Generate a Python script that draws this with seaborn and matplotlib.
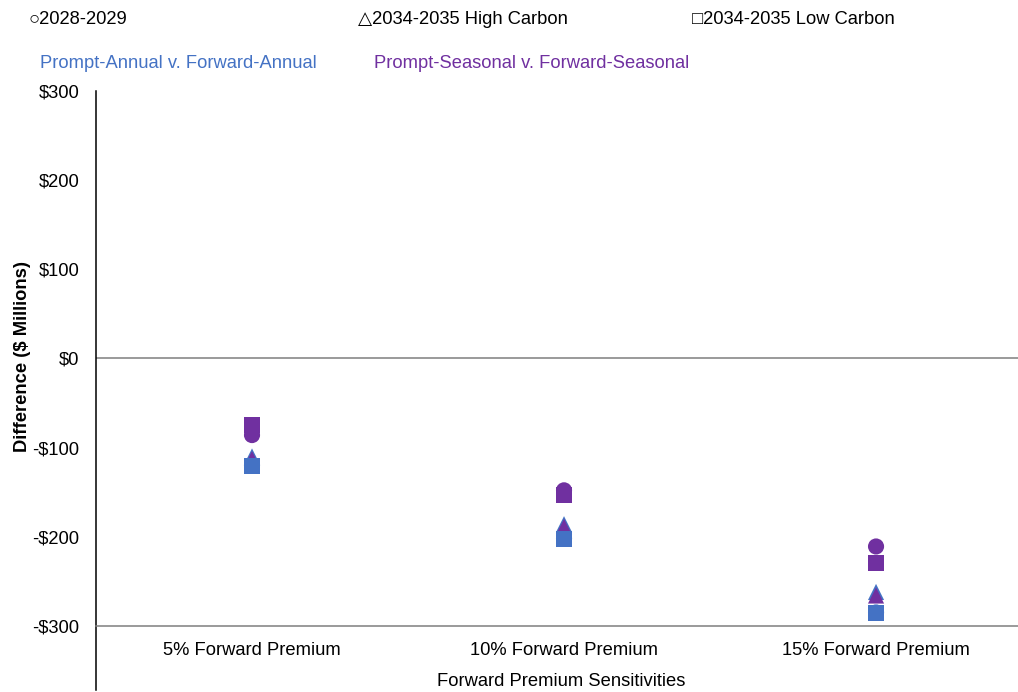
import pandas as pd
import numpy as np
import matplotlib.pyplot as plt
import seaborn as sns

sns.set_theme(style='white')
plt.rcParams['font.family'] = ['Liberation Sans', 'DejaVu Sans']
plt.rcParams['text.color'] = 'black'
plt.rcParams['axes.labelcolor'] = 'black'

# categories and series
premiums = ['5% Forward Premium', '10% Forward Premium', '15% Forward Premium']
periods = ['2028-2029', '2034-2035 High Carbon', '2034-2035 Low Carbon']
comparisons = ['Prompt-Annual v. Forward-Annual', 'Prompt-Seasonal v. Forward-Seasonal']

annual_2028 = [-120, -202, -285]
seasonal_2028 = [-86, -148, -211]
annual_high = [-110, -186, -262]
seasonal_high = [-113, -189, -266]
annual_low = [-121, -203, -286]
seasonal_low = [-75, -153, -230]

values = {
    ('2028-2029', comparisons[0]): annual_2028,
    ('2028-2029', comparisons[1]): seasonal_2028,
    ('2034-2035 High Carbon', comparisons[0]): annual_high,
    ('2034-2035 High Carbon', comparisons[1]): seasonal_high,
    ('2034-2035 Low Carbon', comparisons[0]): annual_low,
    ('2034-2035 Low Carbon', comparisons[1]): seasonal_low,
}

rows = []
for period in periods:
    for comp in comparisons:
        for prem, v in zip(premiums, values[(period, comp)]):
            rows.append({'premium': prem, 'period': period, 'comparison': comp, 'value': v})
df = pd.DataFrame(rows)
df['premium'] = pd.Categorical(df['premium'], categories=premiums, ordered=True)
df['xpos'] = df['premium'].cat.codes

colors = {comparisons[0]: '#4472C4', comparisons[1]: '#7030A0'}
markers = {'2028-2029': 'o', '2034-2035 High Carbon': '^', '2034-2035 Low Carbon': 's'}
fs = 13.2

fig = plt.figure(figsize=(10.18, 6.92), dpi=100)
ax = fig.add_axes([96 / 1018, 2 / 692, 922 / 1018, 599 / 692])

sns.scatterplot(data=df, x='xpos', y='value', hue='comparison', style='period',
                palette=colors, markers=markers, s=135, linewidth=0,
                legend=False, ax=ax, zorder=3)

ax.set_xlim(-0.5, 2.455)
ax.set_ylim(-372, 300)
ax.set_yticks(np.arange(-300, 301, 100))
ax.set_yticklabels([f"-${abs(v)}" if v < 0 else f"${v}" for v in range(-300, 301, 100)])
ax.set_xticks(range(len(premiums)))
ax.set_xticklabels(premiums)
ax.tick_params(axis='both', length=0, labelsize=fs, colors='black')
ax.tick_params(axis='y', pad=12)
ax.tick_params(axis='x', pad=12)

ax.spines['top'].set_visible(False)
ax.spines['right'].set_visible(False)
ax.spines['left'].set_color('black')
ax.spines['left'].set_linewidth(1.1)
ax.spines['bottom'].set_position(('data', -300))
ax.spines['bottom'].set_color('#7f7f7f')
ax.spines['bottom'].set_linewidth(1.1)
ax.axhline(0, color='#7f7f7f', linewidth=1.1, zorder=1)

ax.set_xlabel('Forward Premium Sensitivities', fontsize=fs)
ax.xaxis.set_label_coords(0.505, 0.029)
ax.set_ylabel('Difference ($ Millions)', fontsize=fs, fontweight='bold')
ax.yaxis.set_label_coords(-0.071, 0.556)

# marker key and colour key across the top
fig.text(28 / 1018, 1 - 19 / 692, '\u25cb2028-2029', fontsize=fs, va='center', ha='left')
fig.text(358 / 1018, 1 - 19 / 692, '\u25b32034-2035 High Carbon', fontsize=fs, va='center', ha='left')
fig.text(692 / 1018, 1 - 19 / 692, '\u25a12034-2035 Low Carbon', fontsize=fs, va='center', ha='left')
fig.text(40 / 1018, 1 - 64 / 692, comparisons[0], fontsize=fs, va='center', ha='left', color='#4472C4')
fig.text(374 / 1018, 1 - 64 / 692, comparisons[1], fontsize=fs, va='center', ha='left', color='#7030A0')

fig.savefig('out.png', dpi=100)
